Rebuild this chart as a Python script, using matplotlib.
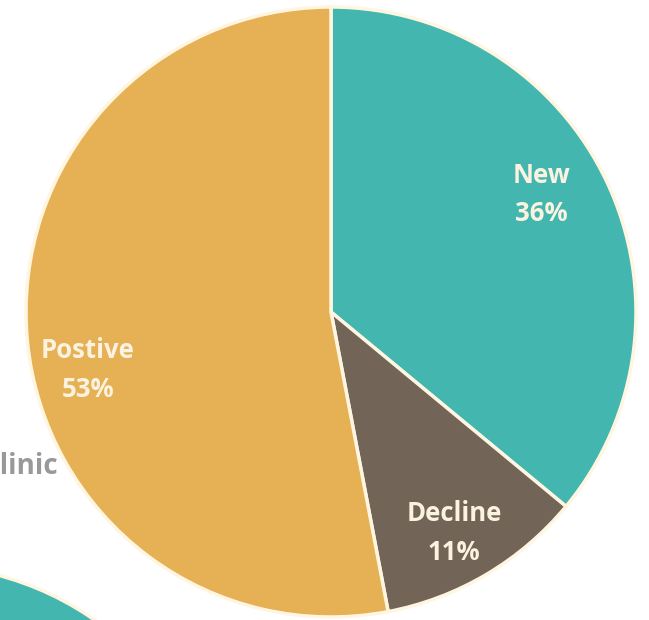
import numpy as np
import matplotlib
matplotlib.use("Agg")
import matplotlib.pyplot as plt
from matplotlib.patches import Circle

categories = ["New", "Decline", "Postive"]
values = [36, 11, 53]
colors = ["#43B6AF", "#726456", "#E6B055"]
label_angle_offset = [4, -1.5, 8]   # degrees, label placement tweak
label_radius = [0.79, 0.83, 0.82]

W, H = 649, 620
fig = plt.figure(figsize=(W / 100, H / 100), dpi=100)
ax = fig.add_axes([0, 0, 1, 1])

cx, cy, r = 331, H - 312, 305
edge = "#FFF6E2"

# partial second pie (teal) in bottom-left corner
ax.add_patch(Circle((-80, H - 870), r, facecolor="#43B6AF", edgecolor=edge, lw=2.5, zorder=1))

wedges, _ = ax.pie(values, colors=colors, startangle=90, counterclock=False,
                   center=(cx, cy), radius=r, frame=True,
                   wedgeprops=dict(edgecolor=edge, linewidth=2.5))
ax.set_xlim(0, W)
ax.set_ylim(0, H)
ax.set_aspect("equal")
ax.axis("off")

total = sum(values)
start = 90.0
for name, v, off, rr in zip(categories, values, label_angle_offset, label_radius):
    span = v / total * 360
    mid = start - span / 2 + off
    start -= span
    x = cx + rr * r * np.cos(np.radians(mid))
    y = cy + rr * r * np.sin(np.radians(mid))
    ax.text(x, y, f"{name}\n{v}%", ha="center", va="center", color="#FBF3E0",
            fontsize=18.5, fontweight="bold", family="Open Sans", linespacing=1.55, zorder=5)

ax.text(58, H - 466, "Clinic", ha="right", va="center", color="#999999",
        fontsize=20, fontweight="bold", family="Open Sans", zorder=5)

fig.savefig("out.png", dpi=100)
